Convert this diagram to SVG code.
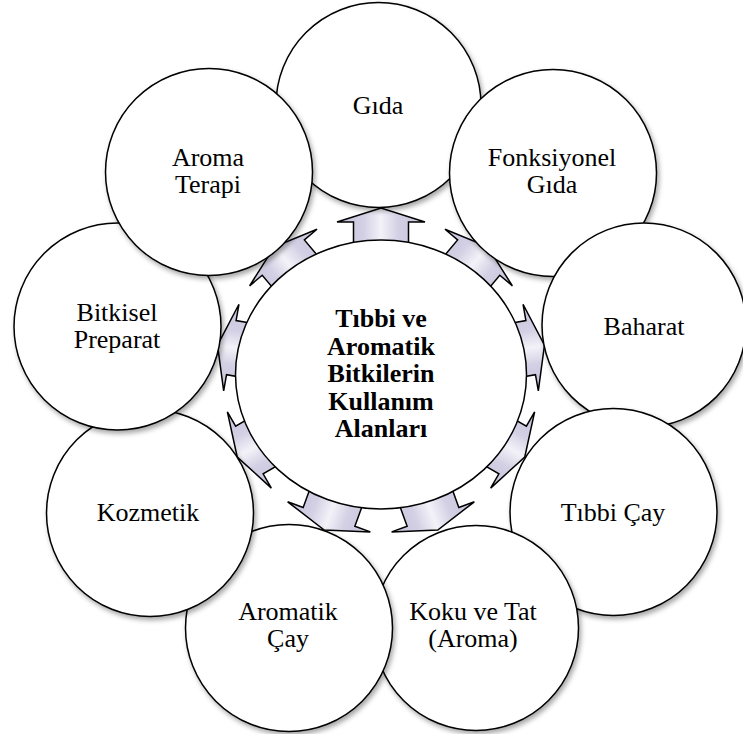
<svg xmlns="http://www.w3.org/2000/svg" width="743" height="734" viewBox="0 0 743 734">
<defs>
<linearGradient id="ag" x1="0" y1="0" x2="0" y2="1">
<stop offset="0" stop-color="#c8c3dc"/>
<stop offset="0.3" stop-color="#d3cfe4"/>
<stop offset="0.5" stop-color="#f3f2f8"/>
<stop offset="0.7" stop-color="#d3cfe4"/>
<stop offset="1" stop-color="#c8c3dc"/>
</linearGradient>
<filter id="sh" x="-20%" y="-20%" width="150%" height="150%">
<feDropShadow dx="2" dy="3" stdDeviation="2.5" flood-color="#000" flood-opacity="0.35"/>
</filter>
<path id="arr" d="M112,-27.5 L152,-27.5 L152,-44 L166,0 L152,44 L152,27.5 L112,27.5 Z"/>
</defs>
<style>
.arrow{fill:url(#ag);stroke:#000;stroke-width:1.5;stroke-linejoin:miter}
.node circle{fill:#fff;stroke:#000;stroke-width:1.5;filter:url(#sh)}
.center ellipse{fill:#fff;stroke:#000;stroke-width:1.5}
text{font-family:"Liberation Serif","Times New Roman",serif;font-size:26px;fill:#000;text-anchor:middle}
.b{font-weight:bold}
</style>
<rect width="743" height="734" fill="#fff"/>
<g id="connectors">
<use href="#arr" class="arrow" transform="translate(381,374) rotate(-90)"/>
<use href="#arr" class="arrow" transform="translate(381,374) rotate(-50)"/>
<use href="#arr" class="arrow" transform="translate(381,374) rotate(-10)"/>
<use href="#arr" class="arrow" transform="translate(381,374) rotate(30)"/>
<use href="#arr" class="arrow" transform="translate(381,374) rotate(70)"/>
<use href="#arr" class="arrow" transform="translate(381,374) rotate(110)"/>
<use href="#arr" class="arrow" transform="translate(381,374) rotate(150)"/>
<use href="#arr" class="arrow" transform="translate(381,374) rotate(190)"/>
<use href="#arr" class="arrow" transform="translate(381,374) rotate(230)"/>
</g>
<g id="center" class="center">
<ellipse cx="381" cy="374.5" rx="145.5" ry="134.5"/>
<text class="b" x="381" y="327">Tıbbi ve</text>
<text class="b" x="381" y="354.5">Aromatik</text>
<text class="b" x="381" y="382">Bitkilerin</text>
<text class="b" x="381" y="409.5">Kullanım</text>
<text class="b" x="381" y="437">Alanları</text>
</g>
<g id="node-gida" class="node">
<circle cx="378.5" cy="105" r="102.5"/>
<text x="378" y="114">Gıda</text>
</g>
<g id="node-fonksiyonel" class="node">
<circle cx="553" cy="173" r="103.5"/>
<text x="552" y="166">Fonksiyonel</text>
<text x="552" y="193">Gıda</text>
</g>
<g id="node-baharat" class="node">
<circle cx="644" cy="325" r="102"/>
<text x="644" y="335">Baharat</text>
</g>
<g id="node-tibbi-cay" class="node">
<circle cx="613.5" cy="512" r="103.5"/>
<text x="613" y="521">Tıbbi Çay</text>
</g>
<g id="node-koku" class="node">
<circle cx="476" cy="628" r="102.5"/>
<text x="473" y="620">Koku ve Tat</text>
<text x="473" y="647">(Aroma)</text>
</g>
<g id="node-aromatik-cay" class="node">
<circle cx="289" cy="628" r="103.5"/>
<text x="288" y="620">Aromatik</text>
<text x="288" y="647">Çay</text>
</g>
<g id="node-kozmetik" class="node">
<circle cx="150" cy="513" r="103.5"/>
<text x="148" y="521">Kozmetik</text>
</g>
<g id="node-bitkisel" class="node">
<circle cx="117.5" cy="326.5" r="103.5"/>
<text x="117" y="321">Bitkisel</text>
<text x="117" y="348">Preparat</text>
</g>
<g id="node-aroma-terapi" class="node">
<circle cx="209" cy="172" r="103.5"/>
<text x="208" y="166">Aroma</text>
<text x="208" y="193">Terapi</text>
</g>
</svg>
